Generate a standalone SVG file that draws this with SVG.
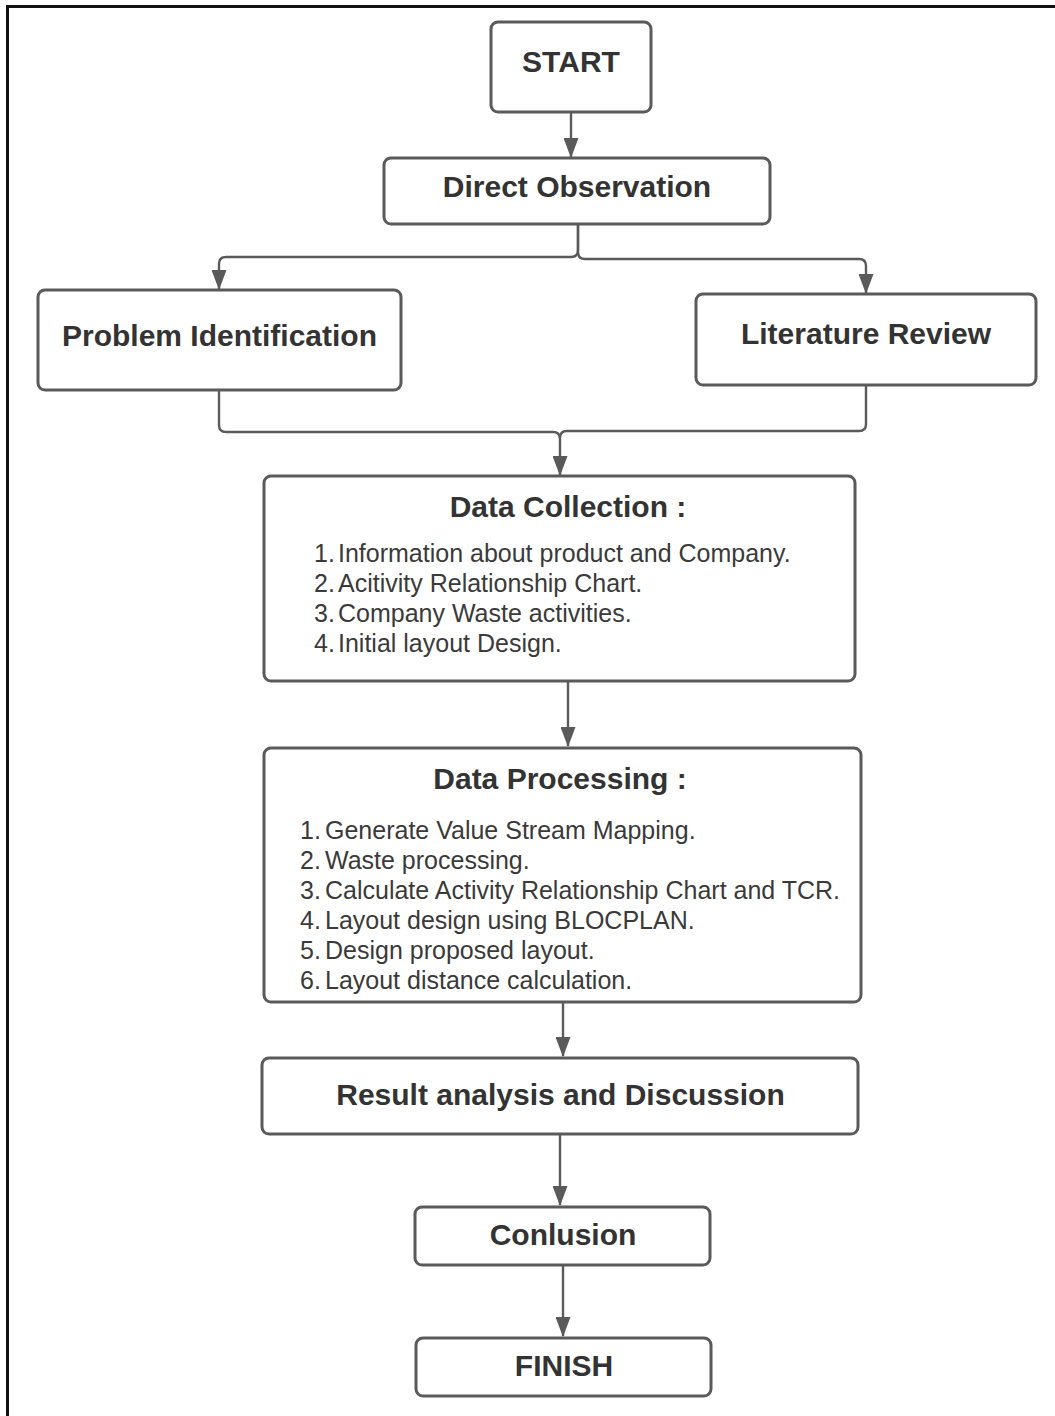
<svg xmlns="http://www.w3.org/2000/svg" width="1055" height="1416" viewBox="0 0 1055 1416">
<style>
.node rect{fill:#ffffff;stroke:#5a5a5a;stroke-width:3}
.t{font-family:"Liberation Sans",Arial,sans-serif;font-weight:bold;font-size:30px;fill:#333333;text-anchor:middle}
.i{font-family:"Liberation Sans",Arial,sans-serif;font-size:25px;fill:#3a3a3a}
.c path{fill:none;stroke:#5a5a5a;stroke-width:2.4}
</style>
<defs>
<marker id="arr" markerUnits="userSpaceOnUse" markerWidth="20" markerHeight="15" viewBox="0 0 20 15" refX="19" refY="7.5" orient="auto">
<path d="M0 0 L20 7.5 L0 15 Z" fill="#5a5a5a"/>
</marker>
</defs>
<rect x="0" y="0" width="1055" height="1416" fill="#ffffff"/>
<path d="M7.5 1416 V6.5 H1055" fill="none" stroke="#111111" stroke-width="3"/>

<g class="c" id="connectors">
<path d="M571 112 V157" marker-end="url(#arr)"/>
<path d="M578 224 V250 Q578 257 571 257 H226 Q219 257 219 264 V289" marker-end="url(#arr)"/>
<path d="M578 224 V252 Q578 259 585 259 H859 Q866 259 866 266 V293" marker-end="url(#arr)"/>
<path d="M219 390 V425 Q219 432 226 432 H553 Q560 432 560 439 V475" marker-end="url(#arr)"/>
<path d="M866 385 V424 Q866 431 859 431 H567 Q560 431 560 438"/>
<path d="M568 681 V746" marker-end="url(#arr)"/>
<path d="M563 1002 V1056" marker-end="url(#arr)"/>
<path d="M560 1134 V1205" marker-end="url(#arr)"/>
<path d="M563 1265 V1336" marker-end="url(#arr)"/>
</g>

<g class="node" id="start">
<rect x="491" y="22" width="160" height="90" rx="7"/>
<text class="t" x="571" y="72">START</text>
</g>
<g class="node" id="direct-observation">
<rect x="384" y="158" width="386" height="66" rx="7"/>
<text class="t" x="577" y="197">Direct Observation</text>
</g>
<g class="node" id="problem-identification">
<rect x="38" y="290" width="363" height="100" rx="7"/>
<text class="t" x="219.5" y="346">Problem Identification</text>
</g>
<g class="node" id="literature-review">
<rect x="696" y="294" width="340" height="91" rx="7"/>
<text class="t" x="866" y="344">Literature Review</text>
</g>
<g class="node" id="data-collection">
<rect x="264" y="476" width="591" height="205" rx="7"/>
<text class="t" x="568" y="517">Data Collection :</text>
<text class="i" x="314" y="562">1.</text><text class="i" x="338" y="562">Information about product and Company.</text>
<text class="i" x="314" y="592">2.</text><text class="i" x="338" y="592">Acitivity Relationship Chart.</text>
<text class="i" x="314" y="622">3.</text><text class="i" x="338" y="622">Company Waste activities.</text>
<text class="i" x="314" y="652">4.</text><text class="i" x="338" y="652">Initial layout Design.</text>
</g>
<g class="node" id="data-processing">
<rect x="264" y="748" width="597" height="254" rx="7"/>
<text class="t" x="560" y="789">Data Processing :</text>
<text class="i" x="300" y="839">1.</text><text class="i" x="325" y="839">Generate Value Stream Mapping.</text>
<text class="i" x="300" y="869">2.</text><text class="i" x="325" y="869">Waste processing.</text>
<text class="i" x="300" y="899">3.</text><text class="i" x="325" y="899">Calculate Activity Relationship Chart and TCR.</text>
<text class="i" x="300" y="929">4.</text><text class="i" x="325" y="929">Layout design using BLOCPLAN.</text>
<text class="i" x="300" y="959">5.</text><text class="i" x="325" y="959">Design proposed layout.</text>
<text class="i" x="300" y="989">6.</text><text class="i" x="325" y="989">Layout distance calculation.</text>
</g>
<g class="node" id="result">
<rect x="262" y="1058" width="596" height="76" rx="7"/>
<text class="t" x="560.5" y="1105">Result analysis and Discussion</text>
</g>
<g class="node" id="conclusion">
<rect x="415" y="1207" width="295" height="58" rx="7"/>
<text class="t" x="563" y="1245">Conlusion</text>
</g>
<g class="node" id="finish">
<rect x="416" y="1338" width="295" height="58" rx="7"/>
<text class="t" x="564" y="1376">FINISH</text>
</g>
</svg>
